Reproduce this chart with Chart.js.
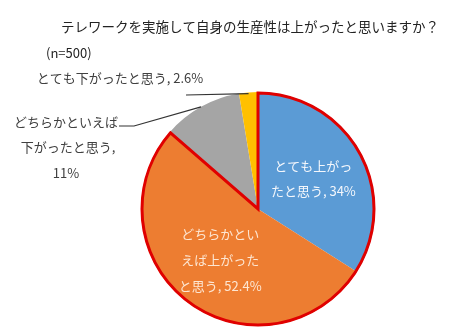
<!DOCTYPE html>
<html lang="ja">
<head>
<meta charset="utf-8">
<script src="https://cdn.jsdelivr.net/npm/chart.js@4"></script>
<style>
  html, body { margin: 0; padding: 0; background: #fff; }
  #wrap { width: 450px; height: 335px; position: relative; }
</style>
</head>
<body>
<div id="wrap"><canvas id="pieChart" width="450" height="335"></canvas></div>
<script>
/* ---- data ---- */
const categories = ['とても上がったと思う', 'どちらかといえば上がったと思う', 'どちらかといえば下がったと思う', 'とても下がったと思う'];
const shares = [34, 52.4, 11, 2.6];
const shareLabels = ['34%', '52.4%', '11%', '2.6%'];
const sliceColors = ['#5b9bd5', '#ed7d31', '#a5a5a5', '#ffc000'];

const titleText = 'テレワークを実施して自身の生産性は上がったと思いますか？';
const sampleText = '(n=500)';

const FONT = '"Noto Sans CJK JP", "Noto Sans", sans-serif';

/* red outline around the two "上がった" slices */
const outlinePlugin = {
  id: 'outline',
  afterDatasetsDraw(chart) {
    const arcs = chart.getDatasetMeta(0).data;
    const a = arcs[0], b = arcs[1];
    const ctx = chart.ctx;
    ctx.save();
    ctx.beginPath();
    ctx.moveTo(a.x, a.y);
    ctx.arc(a.x, a.y, a.outerRadius - 1, a.startAngle, b.endAngle);
    ctx.closePath();
    ctx.lineWidth = 3;
    ctx.lineJoin = 'miter';
    ctx.strokeStyle = '#e00000';
    ctx.stroke();
    ctx.restore();
  }
};

/* point on a slice at given fraction of radius, along its mid angle */
function slicePoint(arc, frac) {
  const mid = (arc.startAngle + arc.endAngle) / 2;
  return {
    x: arc.x + Math.cos(mid) * arc.outerRadius * frac,
    y: arc.y + Math.sin(mid) * arc.outerRadius * frac
  };
}

const labelPlugin = {
  id: 'labels',
  afterDraw(chart) {
    const ctx = chart.ctx;
    const arcs = chart.getDatasetMeta(0).data;
    ctx.save();
    ctx.textBaseline = 'middle';

    // title
    ctx.font = '13.5px ' + FONT;
    ctx.fillStyle = '#222';
    ctx.textAlign = 'left';
    ctx.fillText(titleText, 61, 27);
    ctx.font = '13px ' + FONT;
    ctx.fillText(sampleText, 46, 53);

    // inside labels
    const inside = [
      { i: 0, lines: ['とても上がっ', 'たと思う, ' + shareLabels[0]], color: '#f4f7fc', gap: 25 },
      { i: 1, lines: ['どちらかとい', 'えば上がった', 'と思う, ' + shareLabels[1]], color: '#fde6d2', gap: 26 }
    ];
    ctx.textAlign = 'center';
    inside.forEach(l => {
      const p = slicePoint(arcs[l.i], 0.54);
      const y0 = p.y - (l.lines.length - 1) * l.gap / 2;
      ctx.fillStyle = l.color;
      l.lines.forEach((t, k) => ctx.fillText(t, p.x, y0 + k * l.gap));
    });

    // outside labels with leader lines
    ctx.fillStyle = '#404040';
    ctx.fillText('とても下がったと思う, ' + shareLabels[3], 120, 78);
    ctx.fillText('どちらかといえば', 66, 122);
    ctx.fillText('下がったと思う,', 68, 147);
    ctx.fillText(shareLabels[2], 66, 173);

    ctx.strokeStyle = '#333';
    ctx.lineWidth = 1.2;
    const py = slicePoint(arcs[3], 0.99);
    ctx.beginPath();
    ctx.moveTo(186, 95);
    ctx.lineTo(py.x, py.y);
    ctx.stroke();

    const pg = slicePoint(arcs[2], 1.0);
    ctx.beginPath();
    ctx.moveTo(119, 126);
    ctx.lineTo(134, 126);
    ctx.lineTo(pg.x, pg.y);
    ctx.stroke();

    ctx.restore();
  }
};

new Chart(document.getElementById('pieChart'), {
  type: 'pie',
  data: {
    labels: categories,
    datasets: [{
      data: shares,
      backgroundColor: sliceColors,
      borderWidth: 0
    }]
  },
  options: {
    responsive: false,
    animation: false,
    layout: { padding: { left: 141, right: 75, top: 92, bottom: 9 } },
    plugins: {
      legend: { display: false },
      tooltip: { enabled: false }
    }
  },
  plugins: [outlinePlugin, labelPlugin]
});
</script>
</body>
</html>
